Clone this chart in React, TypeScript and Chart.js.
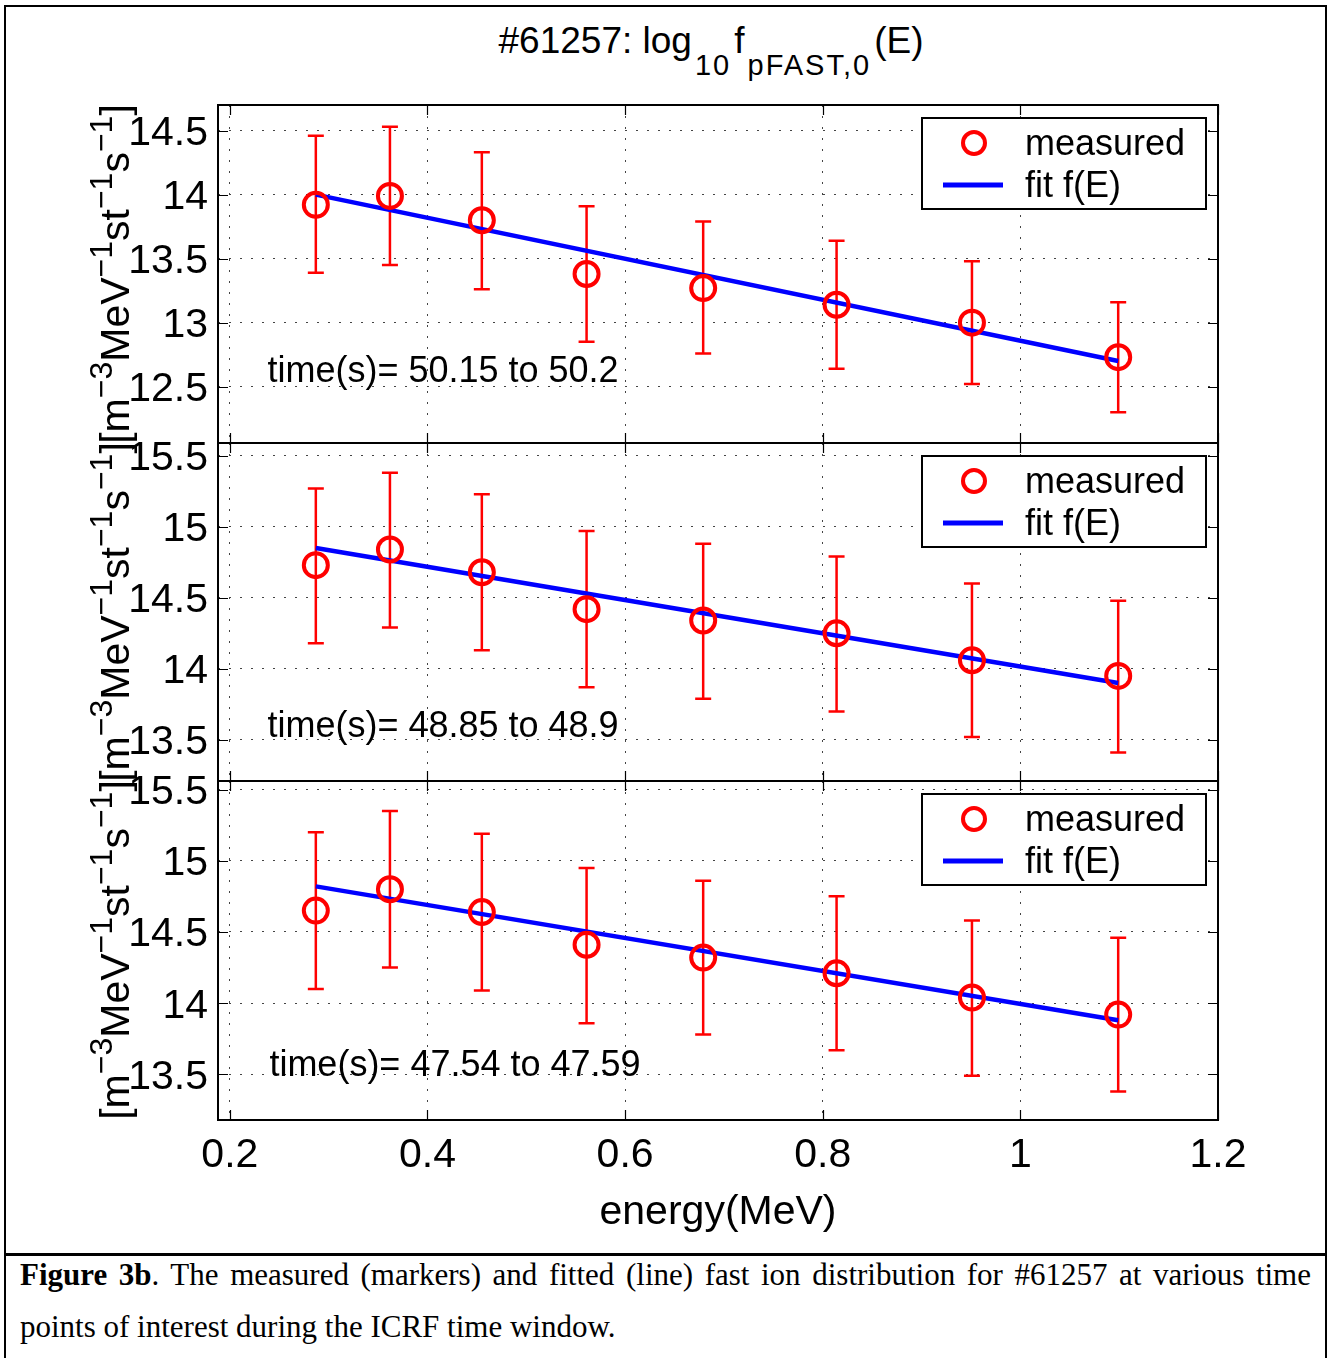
import React, { useEffect, useRef } from "react";
import { Chart, registerables } from "chart.js";

Chart.register(...registerables);

// ---------------- data ----------------
const energy = [0.287, 0.362, 0.455, 0.561, 0.679, 0.814, 0.951, 1.099];
const fitEnergy = [0.287, 1.099];

// panel A: time 50.15 to 50.2
const measA = [13.92, 13.99, 13.8, 13.38, 13.27, 13.14, 13.0, 12.73];
const upA = [14.46, 14.53, 14.33, 13.91, 13.79, 13.64, 13.48, 13.16];
const loA = [13.39, 13.45, 13.26, 12.85, 12.76, 12.64, 12.52, 12.3];
const fitA = [14.0, 12.7];

// panel B: time 48.85 to 48.9
const measB = [14.73, 14.84, 14.68, 14.42, 14.34, 14.25, 14.06, 13.95];
const upB = [15.27, 15.38, 15.23, 14.97, 14.88, 14.79, 14.6, 14.48];
const loB = [14.18, 14.29, 14.13, 13.87, 13.79, 13.7, 13.52, 13.41];
const fitB = [14.85, 13.9];

// panel C: time 47.54 to 47.59
const measC = [14.65, 14.8, 14.64, 14.41, 14.32, 14.21, 14.04, 13.92];
const upC = [15.2, 15.35, 15.19, 14.95, 14.86, 14.75, 14.58, 14.46];
const loC = [14.1, 14.25, 14.09, 13.86, 13.78, 13.67, 13.49, 13.38];
const fitC = [14.82, 13.88];

const xTicks = [0.2, 0.4, 0.6, 0.8, 1.0, 1.2];
const yTicksA = [12.5, 13, 13.5, 14, 14.5];
const yTicksB = [13.5, 14, 14.5, 15, 15.5];
const yTicksC = [13.5, 14, 14.5, 15, 15.5];

const legendLabels = ["measured", "fit f(E)"];
const timeLabels = [
  "time(s)= 50.15 to 50.2",
  "time(s)= 48.85 to 48.9",
  "time(s)= 47.54 to 47.59",
];
const xTitle = "energy(MeV)";

const FONT = '"Liberation Sans", Arial, Helvetica, sans-serif';
const SERIF = '"Liberation Serif", "Times New Roman", Times, serif';

const fmt = (v: any) => String(parseFloat(Number(v).toFixed(2)));

type PanelProps = {
  meas: number[];
  up: number[];
  lo: number[];
  fit: number[];
  yMin: number;
  yMax: number;
  yTicks: number[];
  timeLabel: string;
  timeAt: [number, number];
  showX: boolean;
  top: number;
  height: number;
  xAxisHeight: number;
};

function makePlugin(p: PanelProps) {
  return {
    id: "panelDeco",
    beforeDatasetsDraw(chart: any) {
      const { ctx } = chart;
      const x = chart.scales.x;
      const y = chart.scales.y;
      ctx.save();
      ctx.strokeStyle = "#ff0000";
      ctx.lineWidth = 2.5;
      for (let i = 0; i < energy.length; i++) {
        const px = x.getPixelForValue(energy[i]);
        const pt = y.getPixelForValue(p.up[i]);
        const pb = y.getPixelForValue(p.lo[i]);
        ctx.beginPath();
        ctx.moveTo(px, pt);
        ctx.lineTo(px, pb);
        ctx.moveTo(px - 8, pt);
        ctx.lineTo(px + 8, pt);
        ctx.moveTo(px - 8, pb);
        ctx.lineTo(px + 8, pb);
        ctx.stroke();
      }
      ctx.restore();
    },
    afterDraw(chart: any) {
      const { ctx, chartArea: a } = chart;
      const x = chart.scales.x;
      const y = chart.scales.y;
      ctx.save();
      // inward tick marks
      ctx.strokeStyle = "#000";
      ctx.lineWidth = 1.2;
      ctx.beginPath();
      for (const t of y.ticks) {
        const py = Math.round(y.getPixelForValue(t.value)) + 0.5;
        ctx.moveTo(a.left, py);
        ctx.lineTo(a.left + 10, py);
        ctx.moveTo(a.right, py);
        ctx.lineTo(a.right - 10, py);
      }
      for (const t of x.ticks) {
        const px = Math.round(x.getPixelForValue(t.value)) + 0.5;
        ctx.moveTo(px, a.bottom);
        ctx.lineTo(px, a.bottom - 10);
        ctx.moveTo(px, a.top);
        ctx.lineTo(px, a.top + 10);
      }
      ctx.stroke();
      // axes box
      ctx.lineWidth = 2;
      ctx.strokeRect(a.left, a.top, a.right - a.left, a.bottom - a.top);

      // time annotation
      ctx.fillStyle = "#000";
      ctx.font = `36px ${FONT}`;
      ctx.textBaseline = "middle";
      ctx.textAlign = "left";
      ctx.fillText(
        p.timeLabel,
        x.getPixelForValue(p.timeAt[0]),
        y.getPixelForValue(p.timeAt[1])
      );

      // legend box
      const bw = 284;
      const bh = 91;
      const bx = a.right - 12 - bw;
      const by = a.top + 13;
      ctx.fillStyle = "#fff";
      ctx.fillRect(bx, by, bw, bh);
      ctx.strokeStyle = "#000";
      ctx.lineWidth = 2;
      ctx.strokeRect(bx, by, bw, bh);
      const ds = chart.data.datasets;
      ctx.strokeStyle = "#ff0000";
      ctx.lineWidth = 4;
      ctx.beginPath();
      ctx.arc(bx + 52, by + 25, 11, 0, Math.PI * 2);
      ctx.stroke();
      ctx.strokeStyle = "#0000ff";
      ctx.lineWidth = 5;
      ctx.beginPath();
      ctx.moveTo(bx + 21, by + 67);
      ctx.lineTo(bx + 81, by + 67);
      ctx.stroke();
      ctx.fillStyle = "#000";
      ctx.font = `36px ${FONT}`;
      ctx.textBaseline = "middle";
      ctx.fillText(ds[0].label, bx + 103, by + 27);
      ctx.fillText(ds[1].label, bx + 103, by + 69);
      ctx.restore();
    },
  };
}

function Panel(p: PanelProps) {
  const ref = useRef<HTMLCanvasElement>(null);
  useEffect(() => {
    const canvas = ref.current as HTMLCanvasElement;
    const chart = new Chart(canvas, {
      type: "scatter",
      data: {
        datasets: [
          {
            label: legendLabels[0],
            data: energy.map((e, i) => ({ x: e, y: p.meas[i] })),
            showLine: false,
            pointStyle: "circle",
            pointRadius: 12,
            pointHoverRadius: 12,
            pointBorderWidth: 4,
            pointBorderColor: "#ff0000",
            pointBackgroundColor: "rgba(0,0,0,0)",
          },
          {
            label: legendLabels[1],
            data: fitEnergy.map((e, i) => ({ x: e, y: p.fit[i] })),
            showLine: true,
            borderColor: "#0000ff",
            borderWidth: 4.5,
            pointRadius: 0,
          },
        ],
      } as any,
      options: {
        responsive: false,
        animation: false,
        devicePixelRatio: 1,
        events: [],
        layout: { padding: { left: 0, right: 112, top: 40, bottom: p.showX ? 0 : 40 } },
        plugins: { legend: { display: false }, tooltip: { enabled: false } },
        scales: {
          x: {
            type: "linear",
            position: "bottom",
            min: 0.188,
            max: 1.2,
            afterBuildTicks: (s: any) => {
              s.ticks = xTicks.map((v) => ({ value: v }));
            },
            afterFit: (s: any) => {
              s.height = p.xAxisHeight;
            },
            grid: { color: "#444", lineWidth: 1, drawTicks: false },
            border: { display: false, dash: [2, 9] },
            ticks: {
              display: p.showX,
              padding: 11,
              color: "#000",
              maxRotation: 0,
              font: { family: FONT, size: 41 },
              callback: (v: any) => fmt(v),
            },
            title: {
              display: p.showX,
              text: xTitle,
              color: "#000",
              font: { family: FONT, size: 41 },
              padding: { top: 0, bottom: 13 },
            },
          },
          y: {
            type: "linear",
            position: "left",
            min: p.yMin,
            max: p.yMax,
            afterBuildTicks: (s: any) => {
              s.ticks = p.yTicks.map((v) => ({ value: v }));
            },
            afterFit: (s: any) => {
              s.width = 218;
            },
            grid: { color: "#444", lineWidth: 1, drawTicks: false },
            border: { display: false, dash: [2, 9] },
            ticks: {
              padding: 10,
              labelOffset: 3,
              color: "#000",
              font: { family: FONT, size: 41 },
              callback: (v: any) => fmt(v),
            },
          },
        },
      } as any,
      plugins: [makePlugin(p)],
    });
    return () => chart.destroy();
  }, []);
  return (
    <canvas
      ref={ref}
      width={1330}
      height={p.height}
      style={{ position: "absolute", left: 0, top: p.top, width: 1330, height: p.height }}
    />
  );
}

function Sup({ children }: { children: React.ReactNode }) {
  return (
    <span style={{ fontSize: 32, position: "relative", top: -17, lineHeight: 0 }}>{children}</span>
  );
}

function YLabel({ cy }: { cy: number }) {
  return (
    <div
      style={{
        position: "absolute",
        left: 115,
        top: cy,
        transform: "translate(-50%, -50%) rotate(-90deg)",
        whiteSpace: "nowrap",
        fontFamily: FONT,
        fontSize: 41,
        lineHeight: "41px",
        color: "#000",
      }}
    >
      [m<Sup>−3</Sup>MeV<Sup>−1</Sup>st<Sup>−1</Sup>s<Sup>−1</Sup>]
    </div>
  );
}

const subStyle: React.CSSProperties = {
  fontSize: 29,
  position: "relative",
  top: 22,
  lineHeight: 0,
  marginLeft: 3,
  marginRight: 3,
};

export default function App() {
  return (
    <div
      style={{
        position: "absolute",
        left: 0,
        top: 0,
        width: 1330,
        height: 1358,
        overflow: "hidden",
        background: "#fff",
      }}
    >
      <div
        style={{
          position: "absolute",
          left: 4,
          top: 5,
          width: 1319,
          height: 1400,
          border: "2px solid #000",
        }}
      />
      <div style={{ position: "absolute", left: 4, top: 1253, width: 1323, height: 3, background: "#000" }} />

      {/* title */}
      <div
        style={{
          position: "absolute",
          left: 711,
          top: 22,
          transform: "translateX(-50%)",
          whiteSpace: "nowrap",
          fontFamily: FONT,
          fontSize: 37,
          lineHeight: "37px",
          color: "#000",
        }}
      >
        #61257: log
        <span style={{ ...subStyle, letterSpacing: 2 }}>10</span>
        f
        <span style={{ ...subStyle, letterSpacing: 2 }}>pFAST,0</span>
        (E)
      </div>

      <Panel
        meas={measA}
        up={upA}
        lo={loA}
        fit={fitA}
        yMin={12.06}
        yMax={14.7}
        yTicks={yTicksA}
        timeLabel={timeLabels[0]}
        timeAt={[0.238, 12.617]}
        showX={false}
        top={65}
        height={418}
        xAxisHeight={0}
      />
      <Panel
        meas={measB}
        up={upB}
        lo={loB}
        fit={fitB}
        yMin={13.21}
        yMax={15.59}
        yTicks={yTicksB}
        timeLabel={timeLabels[1]}
        timeAt={[0.238, 13.59]}
        showX={false}
        top={403}
        height={418}
        xAxisHeight={0}
      />
      <Panel
        meas={measC}
        up={upC}
        lo={loC}
        fit={fitC}
        yMin={13.18}
        yMax={15.56}
        yTicks={yTicksC}
        timeLabel={timeLabels[2]}
        timeAt={[0.24, 13.56]}
        showX={true}
        top={741}
        height={509}
        xAxisHeight={130}
      />

      <YLabel cy={274} />
      <YLabel cy={612} />
      <YLabel cy={950} />

      {/* caption */}
      <div
        style={{
          position: "absolute",
          left: 20,
          top: 1259,
          width: 1291,
          fontFamily: SERIF,
          fontSize: 31,
          lineHeight: "31px",
          textAlign: "justify",
          textAlignLast: "justify" as any,
          whiteSpace: "nowrap",
          color: "#000",
        }}
      >
        <b>Figure 3b</b>. The measured (markers) and fitted (line) fast ion distribution for #61257 at various time
      </div>
      <div
        style={{
          position: "absolute",
          left: 20,
          top: 1311,
          fontFamily: SERIF,
          fontSize: 31,
          lineHeight: "31px",
          whiteSpace: "nowrap",
          color: "#000",
        }}
      >
        points of interest during the ICRF time window.
      </div>
    </div>
  );
}
